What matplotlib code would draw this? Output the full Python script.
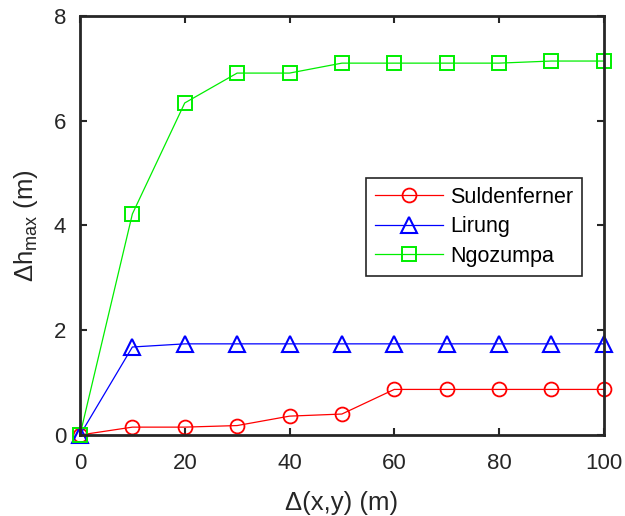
import matplotlib
matplotlib.use("Agg")
import matplotlib.pyplot as plt

plt.rcParams['font.family'] = ['Liberation Sans', 'DejaVu Sans']

dxy = [0, 10, 20, 30, 40, 50, 60, 70, 80, 90, 100]
suldenferner = [0, 0.15, 0.15, 0.18, 0.36, 0.40, 0.87, 0.87, 0.87, 0.87, 0.87]
lirung = [0, 1.68, 1.74, 1.74, 1.74, 1.74, 1.74, 1.74, 1.74, 1.74, 1.74]
ngozumpa = [0, 4.22, 6.34, 6.91, 6.91, 7.10, 7.10, 7.10, 7.10, 7.14, 7.14]

fig = plt.figure(figsize=(6.25, 5.16), dpi=100)
ax = fig.add_axes([0.128, 0.157, 0.838, 0.812])

ax.plot(dxy, suldenferner, color='#ff0000', lw=0.9, marker='o', ms=10, mfc='none', mew=1.3, label='Suldenferner', clip_on=False)
ax.plot(dxy, lirung, color='#0000ff', lw=0.9, marker='^', ms=12, mfc='none', mew=1.5, label='Lirung', clip_on=False)
ax.plot(dxy, ngozumpa, color='#00ee00', lw=0.9, marker='s', ms=9.5, mfc='none', mew=1.4, label='Ngozumpa', clip_on=False)

ax.set_xlim(0, 100)
ax.set_ylim(0, 8)
ax.set_xticks(range(0, 101, 20))
ax.set_yticks(range(0, 9, 2))
ax.tick_params(direction='in', top=True, right=True, length=5, width=1.5, labelsize=16,
               colors='#262626')
ax.tick_params(axis='x', pad=13)
ax.tick_params(axis='y', pad=10)
for s in ax.spines.values():
    s.set_linewidth(2)
    s.set_color('#262626')

ax.set_xlabel('Δ(x,y) (m)', fontsize=18.5, color='#262626', labelpad=12)
ax.set_ylabel('Δh$_{\\mathregular{max}}$ (m)', fontsize=18.5, color='#262626', labelpad=10)

leg = ax.legend(loc='upper left', bbox_to_anchor=(0.546, 0.613), fontsize=15.5, fancybox=False,
                edgecolor='#262626', framealpha=1, handlelength=3.2, borderpad=0.4,
                labelspacing=0.4, handletextpad=0.3, borderaxespad=0)
leg.get_frame().set_linewidth(1.2)

fig.savefig('out.png', dpi=100)
